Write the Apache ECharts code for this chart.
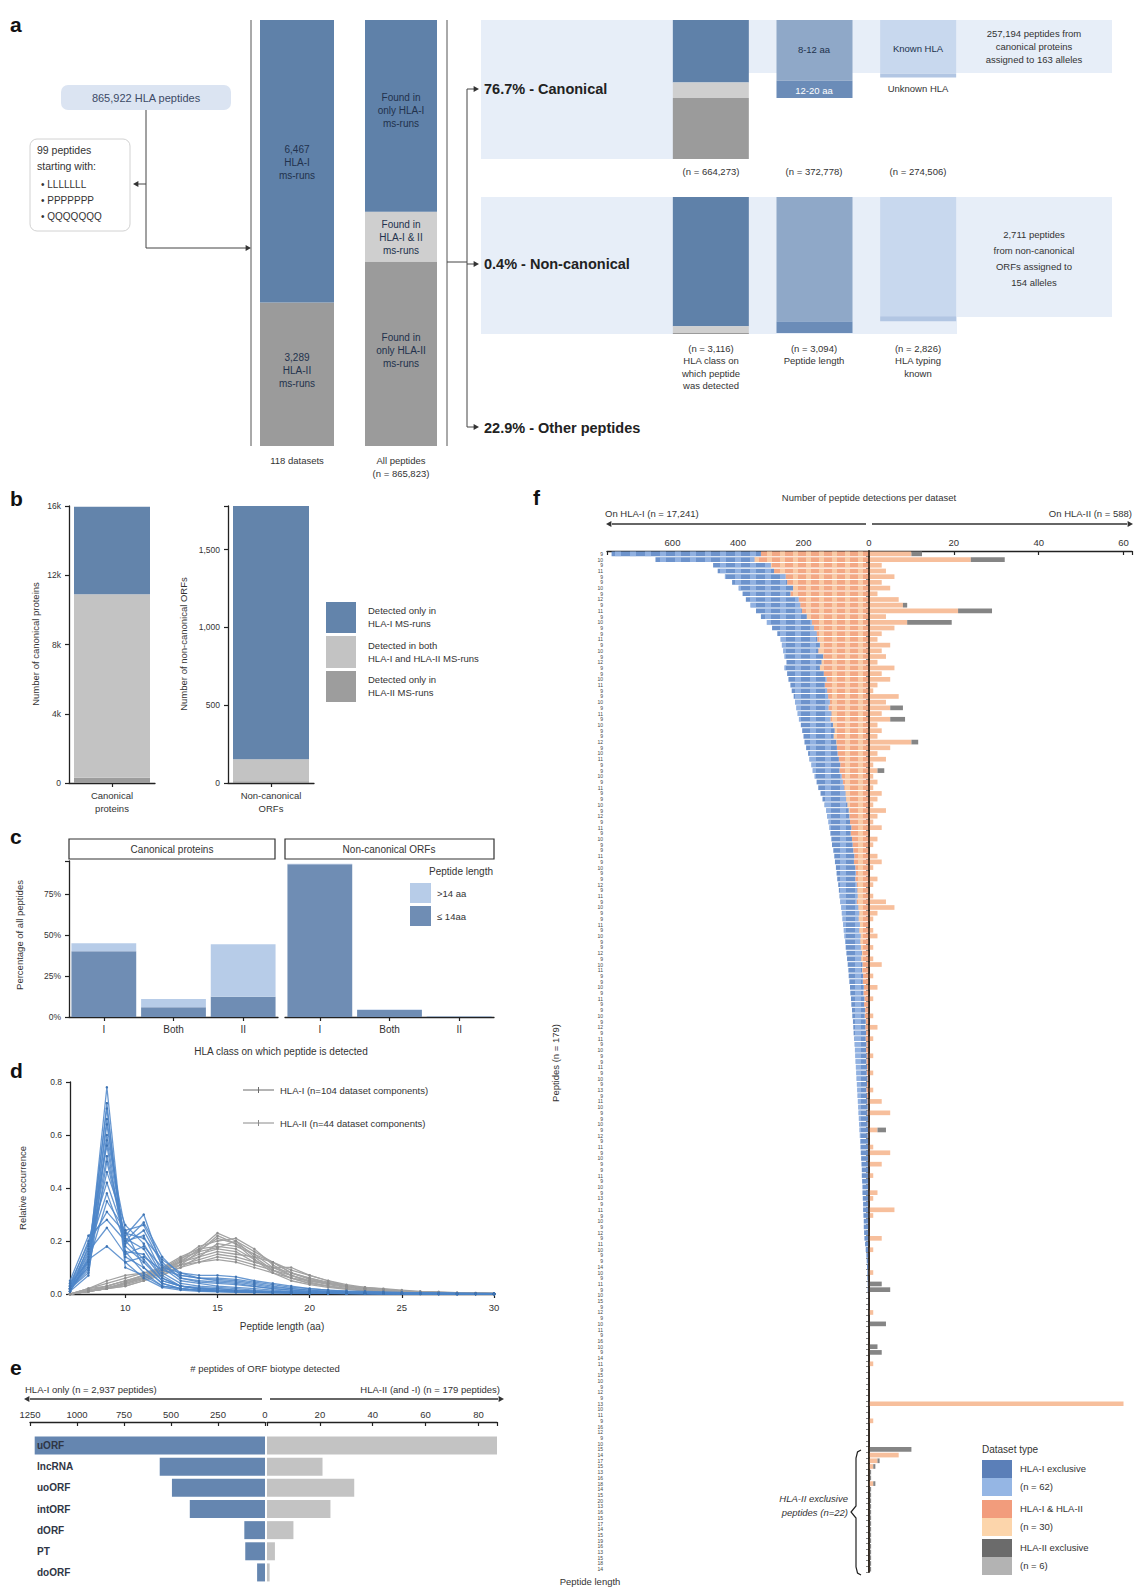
<!DOCTYPE html>
<html><head><meta charset="utf-8">
<script src="https://cdn.jsdelivr.net/npm/echarts@6/dist/echarts.min.js"></script>
<style>html,body{margin:0;padding:0;background:#fff}#c{width:1141px;height:1587px}</style>
</head><body><div id="c"></div>
<script>
// ---------------- Panel a ----------------
const aDatasetCats = ['118 datasets'];
const aRunsHLA1 = [6467];
const aRunsHLA2 = [3289];
const aAllPeptidesCats = ['All peptides'];
const aPepOnlyHLA1 = [389623];
const aPepBoth = [101300];
const aPepOnlyHLA2 = [374900];
const aStepCats = ['HLA class', 'Peptide length', 'HLA typing'];
const canonClass = [299273, 73000, 292000];     // only HLA-I, both, only HLA-II
const canonLength = [290000, 82778];            // 8-12 aa, 12-20 aa
const canonTyping = [257194, 17312];            // known HLA, unknown HLA
const nonCanonClass = [2937, 157, 22];
const nonCanonLength = [2830, 264];
const nonCanonTyping = [2711, 115];
// ---------------- Panel b ----------------
const bCats1 = ['Canonical\nproteins'];
const bCats2 = ['Non-canonical\nORFs'];
const bCanonOnlyHLA1 = [5050];
const bCanonBoth = [10600];
const bCanonOnlyHLA2 = [300];
const bNonCanonOnlyHLA1 = [1628];
const bNonCanonBoth = [140];
const bNonCanonOnlyHLA2 = [12];
// ---------------- Panel c ----------------
const cCats = ['I', 'Both', 'II'];
const cCanonShort = [40, 6, 12.3];
const cCanonLong = [4.9, 5, 32];
const cNonCanonShort = [93, 4.3, 0.3];
const cNonCanonLong = [0.4, 0.2, 0.2];
// ---------------- Panel d ----------------
const dLengths = [7,8,9,10,11,12,13,14,15,16,17,18,19,20,21,22,23,24,25,26,27,28,29,30];
const dHLA1Curves = [
 [0.01,0.12,0.78,0.12,0.06,0.025,0.015,0.01,0.008,0.006,0.005,0.004,0.003,0.002,0.002,0.001,0.001,0.001,0.001,0,0,0,0,0],
 [0.02,0.15,0.70,0.14,0.10,0.04,0.02,0.015,0.01,0.008,0.006,0.005,0.004,0.003,0.002,0.002,0.001,0.001,0.001,0.001,0,0,0,0],
 [0.02,0.10,0.72,0.10,0.07,0.03,0.02,0.015,0.012,0.01,0.008,0.006,0.005,0.004,0.003,0.002,0.002,0.001,0.001,0.001,0,0,0,0],
 [0.02,0.11,0.66,0.16,0.08,0.03,0.02,0.012,0.01,0.008,0.006,0.005,0.004,0.003,0.002,0.002,0.001,0.001,0.001,0,0,0,0,0],
 [0.03,0.10,0.64,0.18,0.12,0.05,0.03,0.02,0.015,0.012,0.009,0.007,0.005,0.004,0.003,0.002,0.002,0.001,0.001,0.001,0.001,0,0,0],
 [0.02,0.09,0.60,0.24,0.10,0.04,0.02,0.015,0.012,0.01,0.008,0.006,0.005,0.004,0.003,0.002,0.002,0.001,0.001,0.001,0,0,0,0],
 [0.01,0.07,0.58,0.20,0.13,0.05,0.03,0.02,0.015,0.012,0.01,0.008,0.006,0.004,0.003,0.002,0.002,0.001,0.001,0.001,0,0,0,0],
 [0.01,0.18,0.56,0.16,0.15,0.06,0.03,0.02,0.02,0.015,0.01,0.008,0.006,0.005,0.004,0.003,0.002,0.002,0.001,0.001,0.001,0.001,0,0],
 [0.01,0.13,0.52,0.21,0.17,0.06,0.03,0.025,0.02,0.015,0.012,0.01,0.008,0.006,0.004,0.003,0.002,0.002,0.001,0.001,0.001,0,0,0],
 [0.02,0.08,0.50,0.20,0.22,0.08,0.04,0.03,0.025,0.02,0.015,0.01,0.008,0.006,0.005,0.004,0.003,0.002,0.002,0.001,0.001,0.001,0.001,0],
 [0.01,0.14,0.46,0.26,0.19,0.07,0.03,0.02,0.015,0.012,0.01,0.008,0.006,0.005,0.004,0.003,0.002,0.002,0.001,0.001,0.001,0,0,0],
 [0.03,0.20,0.42,0.22,0.30,0.10,0.05,0.04,0.03,0.025,0.02,0.015,0.01,0.008,0.006,0.005,0.004,0.003,0.002,0.002,0.001,0.001,0.001,0.001],
 [0.03,0.17,0.38,0.19,0.24,0.11,0.06,0.045,0.04,0.035,0.028,0.02,0.015,0.01,0.008,0.006,0.004,0.003,0.002,0.002,0.001,0.001,0.001,0],
 [0.04,0.12,0.35,0.24,0.26,0.12,0.06,0.05,0.045,0.04,0.03,0.02,0.015,0.01,0.008,0.006,0.005,0.004,0.003,0.002,0.002,0.001,0.001,0.001],
 [0.04,0.19,0.31,0.23,0.21,0.13,0.08,0.06,0.055,0.05,0.04,0.03,0.02,0.015,0.01,0.008,0.006,0.004,0.003,0.002,0.002,0.001,0.001,0.001],
 [0.05,0.22,0.28,0.20,0.27,0.14,0.07,0.06,0.05,0.045,0.035,0.025,0.02,0.015,0.01,0.008,0.006,0.005,0.004,0.003,0.002,0.002,0.001,0.001],
 [0.02,0.16,0.25,0.15,0.18,0.10,0.08,0.07,0.07,0.065,0.05,0.04,0.03,0.02,0.015,0.01,0.008,0.006,0.005,0.004,0.003,0.002,0.002,0.001],
 [0.03,0.13,0.18,0.12,0.14,0.09,0.07,0.06,0.06,0.055,0.045,0.035,0.025,0.02,0.015,0.012,0.01,0.008,0.006,0.005,0.004,0.003,0.002,0.002]
];
const dHLA2Curves = [
 [0,0.01,0.02,0.03,0.05,0.08,0.12,0.17,0.23,0.20,0.14,0.09,0.06,0.04,0.03,0.02,0.015,0.01,0.007,0.005,0.003,0.002,0.001,0.001],
 [0,0.01,0.02,0.045,0.07,0.07,0.11,0.16,0.22,0.19,0.13,0.08,0.05,0.035,0.025,0.018,0.012,0.008,0.006,0.004,0.003,0.002,0.001,0.001],
 [0,0.01,0.02,0.035,0.055,0.085,0.125,0.165,0.21,0.19,0.15,0.10,0.07,0.045,0.03,0.02,0.014,0.01,0.007,0.005,0.003,0.002,0.001,0.001],
 [0,0.01,0.02,0.04,0.06,0.09,0.13,0.18,0.20,0.21,0.17,0.11,0.07,0.05,0.035,0.025,0.018,0.012,0.008,0.006,0.004,0.003,0.002,0.001],
 [0,0.01,0.025,0.04,0.065,0.095,0.135,0.16,0.175,0.20,0.16,0.12,0.08,0.055,0.04,0.028,0.02,0.014,0.01,0.007,0.005,0.003,0.002,0.001],
 [0,0.01,0.02,0.03,0.05,0.07,0.10,0.14,0.19,0.18,0.15,0.12,0.08,0.06,0.04,0.03,0.02,0.015,0.01,0.007,0.005,0.003,0.002,0.001],
 [0,0.01,0.03,0.05,0.07,0.10,0.14,0.17,0.18,0.17,0.13,0.09,0.06,0.04,0.03,0.02,0.015,0.01,0.008,0.005,0.004,0.003,0.002,0.001],
 [0,0.01,0.02,0.04,0.06,0.09,0.12,0.15,0.17,0.16,0.12,0.10,0.10,0.07,0.05,0.03,0.02,0.015,0.01,0.007,0.005,0.003,0.002,0.001],
 [0,0.02,0.04,0.06,0.08,0.10,0.12,0.14,0.16,0.15,0.14,0.12,0.09,0.07,0.05,0.035,0.025,0.018,0.012,0.008,0.006,0.004,0.003,0.002],
 [0,0.015,0.03,0.05,0.07,0.09,0.11,0.13,0.15,0.14,0.12,0.10,0.08,0.06,0.045,0.032,0.022,0.015,0.01,0.007,0.005,0.003,0.002,0.001],
 [0,0.02,0.05,0.07,0.08,0.09,0.11,0.12,0.14,0.13,0.11,0.09,0.07,0.05,0.04,0.03,0.02,0.015,0.01,0.008,0.006,0.004,0.003,0.002],
 [0,0.02,0.03,0.05,0.06,0.08,0.10,0.12,0.13,0.12,0.10,0.08,0.06,0.05,0.04,0.03,0.025,0.02,0.015,0.01,0.008,0.005,0.004,0.003]
];
// ---------------- Panel e ----------------
const eBiotypes = ['uORF', 'lncRNA', 'uoORF', 'intORF', 'dORF', 'PT', 'doORF'];
const eHLA1Only = [1225, 560, 495, 400, 110, 105, 42];
const eHLA2 = [87, 21, 33, 24, 10, 3, 1];
// ---------------- Panel f ----------------
const fPeptideLengths = [
 9,10,9,11,9,9,10,9,12,9, 11,9,10,9,9,11,9,10,9,12, 9,9,10,11,9,9,10,9,11,9,
 10,9,9,12,9,10,11,9,9,10, 9,11,9,9,10,9,12,9,11,9, 10,9,9,11,9,10,9,9,12,9,
 11,9,10,9,9,11,9,10,9,9, 12,9,10,11,9,9,10,9,11,9, 9,10,9,12,9,11,9,10,9,9,
 11,9,10,9,13,9,11,10,9,9, 10,9,12,9,11,9,10,9,9,11, 9,10,9,13,9,11,9,10,9,12,
 9,11,10,9,9,14,10,9,11,9, 10,15,9,12,9,10,11,9,16,10, 9,14,11,9,15,10,9,12,9,13,
 10,11,9,16,12,9,10,15,14,17, 15,13,16,18,14,15,20,13,16,15, 17,14,15,19,16,13,15,18,14];
const fLeftHLA1Excl = [
 456,302,176,172,185,168,166,146,161,152, 140,140,137,128,120,112,116,107,118,107,
 108,112,116,105,108,105,106,98,103,96, 98,99,92,97,94,90,90,88,82,82,
 80,79,76,72,70,69,68,66,67,62, 63,63,61,61,58,59,59,55,56,56,
 55,50,52,53,49,51,47,49,46,46, 47,43,45,42,44,41,42,40,41,39,
 40,38,39,37,38,35,36,34,35,33, 34,32,33,31,28,29,29,29,27,28,
 26,26,24,25,23,23,21,21,21,20, 20,18,19,18,16,17,17,15,16,14,
 14,12,9,8,7,6,5,5,4,4, 3,3,3,2,2,2,2,2,1,1,
 1,1,1,1,1,1,1,1,1,1, 1,1,1,1,1,1,1,0,0,0,
 0,0,0,0,0,0,0,0,0,0, 0,0,0,0,0,0,0,0,0];
const fLeftHLA12 = [
 330,350,300,290,255,250,232,240,215,210, 205,190,175,168,160,158,150,155,140,145,
 150,138,130,135,128,125,120,124,115,118, 110,105,108,100,98,96,92,88,90,84,
 80,76,72,70,66,62,60,58,54,56, 52,50,48,45,46,42,40,42,38,36,
 35,38,33,30,32,28,30,26,27,25, 22,24,20,21,18,19,16,17,14,15,
 12,13,10,11,9,10,8,9,7,8, 6,7,5,6,8,6,5,4,5,3,
 4,3,4,2,3,2,3,2,1,2, 1,2,1,1,2,1,0,1,0,1,
 0,0,1,0,0,0,0,0,0,0, 0,0,0,0,0,0,0,0,0,0,
 0,0,0,0,0,0,0,0,0,0, 0,0,0,0,0,0,0,0,0,0,
 0,0,0,0,0,0,0,0,0,0, 0,0,0,0,0,0,0,0,0];
const fRightHLA12 = [
 10,24,3,4,6,3,5,2,7,8, 21,4,9,6,3,2,5,3,4,2,
 6,3,5,2,1,7,4,5,3,5, 2,3,2,10,5,2,4,1,2,1,
 2,1,3,2,1,4,2,1,3,0, 2,1,0,2,3,1,0,2,1,0,
 1,4,6,2,1,0,1,2,0,1, 0,1,3,0,1,0,2,0,1,0,
 0,1,0,2,0,1,0,0,1,0, 0,1,0,0,1,0,3,0,5,0,
 0,2,0,0,1,5,0,3,0,1, 0,0,2,1,0,6,1,0,0,0,
 3,0,1,0,0,0,1,0,0,0, 0,0,0,1,0,0,0,0,0,0,
 0,0,1,0,0,0,0,0,0,60, 0,0,1,0,0,0,0,0,7,2,
 1,0,0,1,0,0,0,0,0,0, 0,0,0,0,0,0,0,0,0];
const fRightHLA2Excl = [
 2.5,8,0,0,0,0,0,0,0,1, 8,0,10.5,0,0,0,0,0,0,0,
 0,0,0,0,0,0,0,3,0,3.5, 0,0,0,1.6,0,0,0,0,1.6,0,
 0,0,0,0,0,0,0,0,0,0, 0,0,0,0,0,0,0,0,0,0,
 0,0,0,0,0,0,0,0,0,0, 0,0,0,0,0,0,0,0,0,0,
 0,0,0,0,0,0,0,0,0,0, 0,0,0,0,0,0,0,0,0,0,
 0,2,0,0,0,0,0,0,0,0, 0,0,0,0,0,0,0,0,0,0,
 0,0,0,0,0,0,0,0,3,5, 0,0,0,0,0,4,0,0,0,2,
 3,0,0,0,0,0,0,0,0,0, 0,0,0,0,0,0,0,10,0,0.5,
 0.5,0.5,0.5,0.5,0.5,0.5,0.5,0.5,0.5,0.5, 0.5,0.5,0.5,0.5,0.5,0.5,0.5,0.5,0.5];
const fPeptides = fPeptideLengths.map((l, i) => 'p' + (i + 1));

// ---------------- styling ----------------
const F = '"Liberation Sans", Arial, Helvetica, sans-serif';
const C = {
  blueA: '#5f81a9', grayA: '#9b9b9b', lgrayA: '#cfcfcf',
  len1: '#8fa8c8', len2: '#6b8cb8', typ1: '#c8d8ee', typ2: '#b2c6e3', bg: '#e7eef8',
  bBlue: '#6384ab', bL: '#c3c3c3', bG: '#9d9d9d',
  cDark: '#6f8db4', cLight: '#b7cce8',
  dBlue: '#4d86c9', dGray: '#a3a3a3',
  eL: '#6586b0', eR: '#c3c3c3',
  fBlue: '#6d93cc', fOrange: '#f3a885', fOrangeR: '#f7bf9c', fGray: '#858585'
};
const G = [];
function T(x, y, text, o) { o = o || {}; const s = o.size || 10;
  G.push({type: 'text', x: x, y: y, rotation: o.rot || 0, z: 100,
    style: {text: text, fill: o.color || '#333', fontSize: s, fontFamily: F,
      fontWeight: o.bold ? 'bold' : 'normal', fontStyle: o.italic ? 'italic' : 'normal',
      align: o.align || 'center', verticalAlign: o.va || 'middle', lineHeight: o.lh || Math.round(s * 1.25)}}); }
function Ln(pts, o) { o = o || {}; G.push({type: 'polyline', z: 100, shape: {points: pts},
  style: {stroke: o.color || '#444', lineWidth: o.w || 1, fill: null}}); }
function Rc(x, y, w, h, fill, o) { o = o || {}; G.push({type: 'rect', z: o.z !== undefined ? o.z : 1,
  shape: {x: x, y: y, width: w, height: h, r: o.r || 0},
  style: {fill: fill, stroke: o.stroke || null, lineWidth: o.lw || 1}}); }
function Hd(x, y, dir, s) { s = s || 3; let p;
  if (dir === 'r') p = [[x, y], [x - s * 1.8, y - s], [x - s * 1.8, y + s]];
  else p = [[x, y], [x + s * 1.8, y - s], [x + s * 1.8, y + s]];
  G.push({type: 'polygon', z: 100, shape: {points: p}, style: {fill: '#333'}}); }

// panel letters
T(10, 24, 'a', {size: 21, bold: true, align: 'left', color: '#111'});
T(10, 498, 'b', {size: 21, bold: true, align: 'left', color: '#111'});
T(10, 836, 'c', {size: 21, bold: true, align: 'left', color: '#111'});
T(10, 1070, 'd', {size: 21, bold: true, align: 'left', color: '#111'});
T(10, 1367, 'e', {size: 21, bold: true, align: 'left', color: '#111'});
T(533, 497, 'f', {size: 21, bold: true, align: 'left', color: '#111'});

// ---- panel a decorations ----
Rc(61, 85, 170, 25, '#dbe4f2', {r: 7, z: 50});
T(146, 97.5, '865,922 HLA peptides', {size: 11, color: '#3c4a66'});
Rc(30, 139, 100, 92, '#ffffff', {r: 7, stroke: '#d2d2d2', z: 50});
T(37, 150, '99 peptides', {size: 10.5, align: 'left'});
T(37, 166, 'starting with:', {size: 10.5, align: 'left'});
T(41, 184, '\u2022 LLLLLLL', {size: 10, align: 'left'});
T(41, 200, '\u2022 PPPPPPP', {size: 10, align: 'left'});
T(41, 216, '\u2022 QQQQQQQ', {size: 10, align: 'left'});
Ln([[146, 110], [146, 248], [246, 248]]); Hd(251, 248, 'r');
Ln([[146, 184], [138, 184]]); Hd(133, 184, 'l');
Ln([[251, 20], [251, 446]], {color: '#555'});
Ln([[447, 20], [447, 446]], {color: '#555'});
T(297, 162, '6,467\nHLA-I\nms-runs', {size: 10, color: '#22324d', lh: 13});
T(297, 370, '3,289\nHLA-II\nms-runs', {size: 10, color: '#22324d', lh: 13});
T(401, 110, 'Found in\nonly HLA-I\nms-runs', {size: 10, color: '#22324d', lh: 13});
T(401, 237, 'Found in\nHLA-I & II\nms-runs', {size: 10, color: '#22324d', lh: 13});
T(401, 350, 'Found in\nonly HLA-II\nms-runs', {size: 10, color: '#22324d', lh: 13});
T(297, 460, '118 datasets', {size: 9.5});
T(401, 460, 'All peptides', {size: 9.5});
T(401, 473, '(n = 865,823)', {size: 9.5});
Ln([[447, 262], [467, 262]]);
Ln([[467, 89], [467, 427]]);
Ln([[467, 89], [474, 89]]); Hd(479, 89, 'r');
Ln([[467, 264], [474, 264]]); Hd(479, 264, 'r');
Ln([[467, 427], [474, 427]]); Hd(479, 427, 'r');
T(484, 89, '76.7% - Canonical', {size: 14.5, bold: true, align: 'left', color: '#222'});
T(484, 264, '0.4% - Non-canonical', {size: 14.5, bold: true, align: 'left', color: '#222'});
T(484, 428, '22.9% - Other peptides', {size: 14.5, bold: true, align: 'left', color: '#222'});
Rc(481, 20, 192, 139, C.bg, {z: 0});
Rc(481, 20, 631, 53, C.bg, {z: 0});
Rc(481, 197, 476, 137, C.bg, {z: 0});
Rc(957, 197, 155, 120, C.bg, {z: 0});
T(814, 49, '8-12 aa', {size: 9.5, color: '#22324d'});
T(814, 90, '12-20 aa', {size: 9.5, color: '#ffffff'});
T(918, 48, 'Known HLA', {size: 9.5, color: '#22324d'});
T(918, 88, 'Unknown HLA', {size: 9.5});
T(1034, 46, '257,194 peptides from\ncanonical proteins\nassigned to 163 alleles', {size: 9.5, lh: 13});
T(711, 171, '(n = 664,273)', {size: 9.5});
T(814, 171, '(n = 372,778)', {size: 9.5});
T(918, 171, '(n = 274,506)', {size: 9.5});
T(1034, 258, '2,711 peptides\nfrom non-canonical\nORFs assigned to\n154 alleles', {size: 9.5, lh: 16});
T(711, 342, '(n = 3,116)\nHLA class on\nwhich peptide\nwas detected', {size: 9.5, va: 'top', lh: 12.5});
T(814, 342, '(n = 3,094)\nPeptide length', {size: 9.5, va: 'top', lh: 12.5});
T(918, 342, '(n = 2,826)\nHLA typing\nknown', {size: 9.5, va: 'top', lh: 12.5});

// ---- panel b decorations ----
T(35, 644, 'Number of canonical proteins', {size: 9.5, rot: Math.PI / 2});
T(183, 644, 'Number of non-canonical ORFs', {size: 9.5, rot: Math.PI / 2});
Rc(326, 602, 30, 31, C.bBlue, {z: 50});
Rc(326, 636, 30, 32, C.bL, {z: 50});
Rc(326, 671, 30, 31, C.bG, {z: 50});
T(368, 617, 'Detected only in\nHLA-I MS-runs', {size: 9.5, align: 'left', lh: 13});
T(368, 652, 'Detected in both\nHLA-I and HLA-II MS-runs', {size: 9.5, align: 'left', lh: 13});
T(368, 686, 'Detected only in\nHLA-II MS-runs', {size: 9.5, align: 'left', lh: 13});

// ---- panel c decorations ----
Rc(69, 839, 206, 20, '#fff', {stroke: '#333', lw: 1.2, z: 50});
Rc(285, 839, 209, 20, '#fff', {stroke: '#333', lw: 1.2, z: 50});
T(172, 849, 'Canonical proteins', {size: 10});
T(389, 849, 'Non-canonical ORFs', {size: 10});
T(493, 871, 'Peptide length', {size: 10, align: 'right'});
Rc(410, 883, 21, 20, C.cLight, {z: 50});
Rc(410, 906, 21, 20, C.cDark, {z: 50});
T(437, 893, '>14 aa', {size: 9.5, align: 'left'});
T(437, 916, '\u2264 14aa', {size: 9.5, align: 'left'});
T(281, 1051, 'HLA class on which peptide is detected', {size: 10});
T(19, 935, 'Percentage of all peptides', {size: 9.5, rot: Math.PI / 2});

// ---- panel d decorations ----
Ln([[243, 1090], [274, 1090]], {color: '#6a6a6a'});
Ln([[258.5, 1087], [258.5, 1093]], {color: '#6a6a6a'});
T(280, 1090, 'HLA-I (n=104 dataset components)', {size: 9.5, align: 'left'});
Ln([[243, 1123], [274, 1123]], {color: '#8a8a8a'});
Ln([[258.5, 1120], [258.5, 1126]], {color: '#8a8a8a'});
T(280, 1123, 'HLA-II (n=44 dataset components)', {size: 9.5, align: 'left'});
T(282, 1326, 'Peptide length (aa)', {size: 10});
T(22, 1188, 'Relative occurrence', {size: 9.5, rot: Math.PI / 2});

// ---- panel e decorations ----
T(265, 1368, '# peptides of ORF biotype detected', {size: 9.5});
T(25, 1389, 'HLA-I only (n = 2,937 peptides)', {size: 9.5, align: 'left'});
T(500, 1389, 'HLA-II (and -I) (n = 179 peptides)', {size: 9.5, align: 'right'});
Ln([[262, 1399], [30, 1399]], {w: 1.5, color: '#333'}); Hd(24, 1399, 'l');
Ln([[270, 1399], [498, 1399]], {w: 1.5, color: '#333'}); Hd(504, 1399, 'r');

// ---- panel f decorations ----
T(869, 497, 'Number of peptide detections per dataset', {size: 9.5});
T(605, 513, 'On HLA-I (n = 17,241)', {size: 9.5, align: 'left'});
T(1132, 513, 'On HLA-II (n = 588)', {size: 9.5, align: 'right'});
Ln([[612, 524], [866, 524]], {w: 1.5, color: '#333'}); Hd(606, 524, 'l');
Ln([[872, 524], [1127, 524]], {w: 1.5, color: '#333'}); Hd(1133, 524, 'r');
T(555, 1063, 'Peptides (n = 179)', {size: 9.5, rot: Math.PI / 2});
T(590, 1581, 'Peptide length', {size: 9.5});
Ln([[861, 1450], [857.5, 1452], [856, 1458], [856, 1506], [851, 1512], [856, 1518], [856, 1567], [857.5, 1573], [861, 1575]], {color: '#222', w: 1.2});
T(848, 1505, 'HLA-II exclusive\npeptides (n=22)', {size: 9.5, italic: true, align: 'right', lh: 14});
T(982, 1449, 'Dataset type', {size: 10, align: 'left'});
Rc(982, 1460, 30, 18, '#5b7fb8', {z: 50}); Rc(982, 1478, 30, 18, '#95b6e4', {z: 50});
Rc(982, 1500, 30, 18, '#f29c7c', {z: 50}); Rc(982, 1518, 30, 18, '#fcd5ab', {z: 50});
Rc(982, 1539, 30, 18, '#6b6b6b', {z: 50}); Rc(982, 1557, 30, 18, '#b3b3b3', {z: 50});
T(1020, 1460, 'HLA-I exclusive\n(n = 62)', {size: 9.5, align: 'left', va: 'top', lh: 17.5});
T(1020, 1500, 'HLA-I & HLA-II\n(n = 30)', {size: 9.5, align: 'left', va: 'top', lh: 17.5});
T(1020, 1539, 'HLA-II exclusive\n(n = 6)', {size: 9.5, align: 'left', va: 'top', lh: 17.5});

// ---------------- axes helpers ----------------
const AL = {show: true, lineStyle: {color: '#222', width: 1.3}};
const AT = {show: true, length: 4, lineStyle: {color: '#222', width: 1.2}};
const LBL = {fontSize: 9, color: '#333', fontFamily: F};
function gridOf(l, t, w, h) { return {left: l, top: t, width: w, height: h, containLabel: false, outerBoundsMode: 'none'}; }

const option = {
  animation: false,
  backgroundColor: '#ffffff',
  textStyle: {fontFamily: F},
  graphic: {elements: G},
  grid: [
    gridOf(260, 20, 74, 426),
    gridOf(365, 20, 72, 426),
    gridOf(659, 20, 311, 139),
    gridOf(659, 197, 311, 137),
    gridOf(69, 506, 86, 277),
    gridOf(228, 506, 86, 277),
    gridOf(69, 861, 209, 156),
    gridOf(285, 861, 209, 156),
    gridOf(70, 1082, 424, 212),
    gridOf(30, 1435, 235, 148),
    gridOf(267, 1435, 230, 148),
    gridOf(607, 551, 262, 1021),
    gridOf(869, 551, 263, 1021)
  ],
  xAxis: [
    {gridIndex: 0, type: 'category', data: aDatasetCats, show: false},
    {gridIndex: 1, type: 'category', data: aAllPeptidesCats, show: false},
    {gridIndex: 2, type: 'category', data: aStepCats, show: false},
    {gridIndex: 3, type: 'category', data: aStepCats, show: false},
    {gridIndex: 4, type: 'category', data: bCats1, axisLine: AL, axisTick: Object.assign({alignWithLabel: true}, AT),
      axisLabel: Object.assign({}, LBL, {fontSize: 9.5, lineHeight: 13, margin: 6})},
    {gridIndex: 5, type: 'category', data: bCats2, axisLine: AL, axisTick: Object.assign({alignWithLabel: true}, AT),
      axisLabel: Object.assign({}, LBL, {fontSize: 9.5, lineHeight: 13, margin: 6})},
    {gridIndex: 6, type: 'category', data: cCats, axisLine: AL, axisTick: Object.assign({alignWithLabel: true}, AT),
      axisLabel: Object.assign({}, LBL, {fontSize: 10, margin: 7})},
    {gridIndex: 7, type: 'category', data: cCats, axisLine: AL, axisTick: Object.assign({alignWithLabel: true}, AT),
      axisLabel: Object.assign({}, LBL, {fontSize: 10, margin: 7})},
    {gridIndex: 8, type: 'value', min: 7, max: 30, axisLine: AL, splitLine: {show: false},
      axisTick: Object.assign({customValues: [10, 15, 20, 25, 30]}, AT),
      axisLabel: Object.assign({customValues: [10, 15, 20, 25, 30]}, LBL, {fontSize: 9.5})},
    {gridIndex: 9, type: 'value', inverse: true, min: 0, max: 1250, interval: 250, position: 'top', offset: 13,
      axisLine: AL, axisTick: Object.assign({inside: true}, AT), splitLine: {show: false},
      axisLabel: Object.assign({}, LBL, {fontSize: 9.5, margin: 3, formatter: v => String(v)})},
    {gridIndex: 10, type: 'value', min: 0, max: 87, interval: 20, position: 'top', offset: 13,
      axisLine: AL, axisTick: Object.assign({inside: true}, AT), splitLine: {show: false},
      axisLabel: Object.assign({}, LBL, {fontSize: 9.5, margin: 3, formatter: v => (v > 0 && v % 20 === 0) ? String(v) : ''})},
    {gridIndex: 11, type: 'value', inverse: true, min: 0, max: 800, interval: 200, position: 'top',
      axisLine: AL, axisTick: Object.assign({inside: true}, AT), splitLine: {show: false},
      axisLabel: Object.assign({}, LBL, {fontSize: 9.5, margin: 4, formatter: v => v === 800 ? '' : String(v)})},
    {gridIndex: 12, type: 'value', min: 0, max: 62, interval: 20, position: 'top',
      axisLine: AL, axisTick: Object.assign({inside: true}, AT), splitLine: {show: false},
      axisLabel: Object.assign({}, LBL, {fontSize: 9.5, margin: 4, formatter: v => (v > 0 && v % 20 === 0) ? String(v) : ''})}
  ],
  yAxis: [
    {gridIndex: 0, type: 'value', min: 0, max: 9756, show: false},
    {gridIndex: 1, type: 'value', min: 0, max: 865823, show: false},
    {gridIndex: 2, type: 'value', min: 0, max: 664273, inverse: true, show: false},
    {gridIndex: 3, type: 'value', min: 0, max: 3116, inverse: true, show: false},
    {gridIndex: 4, type: 'value', min: 0, max: 16000, interval: 4000, axisLine: AL, axisTick: AT, splitLine: {show: false},
      axisLabel: Object.assign({}, LBL, {fontSize: 8.5, formatter: v => v === 0 ? '0' : (v / 1000) + 'k'})},
    {gridIndex: 5, type: 'value', min: 0, max: 1780, interval: 500, axisLine: AL, axisTick: AT, splitLine: {show: false},
      axisLabel: Object.assign({}, LBL, {fontSize: 8.5, formatter: v => v % 500 === 0 ? v.toLocaleString('en-US') : ''})},
    {gridIndex: 6, type: 'value', min: 0, max: 95, interval: 25, axisLine: AL, axisTick: AT, splitLine: {show: false},
      axisLabel: Object.assign({}, LBL, {fontSize: 8.5, formatter: v => v % 25 === 0 ? v + '%' : ''})},
    {gridIndex: 7, type: 'value', min: 0, max: 95, interval: 25, show: false},
    {gridIndex: 8, type: 'value', min: 0, max: 0.8, interval: 0.2, axisLine: AL, axisTick: AT, splitLine: {show: false},
      axisLabel: Object.assign({}, LBL, {fontSize: 8.5, formatter: v => v.toFixed(1)})},
    {gridIndex: 9, type: 'category', inverse: true, data: eBiotypes, z: 10, axisLine: {show: false}, axisTick: {show: false},
      axisLabel: {inside: true, margin: 7, fontSize: 10, fontWeight: 'bold', color: '#2f3645', fontFamily: F}},
    {gridIndex: 10, type: 'category', inverse: true, data: eBiotypes, show: false},
    {gridIndex: 11, type: 'category', inverse: true, data: fPeptides, axisLine: {show: true, lineStyle: {color: '#222', width: 1.5}},
      axisTick: {show: true, length: 3, interval: 0, lineStyle: {color: '#333', width: 0.6}},
      axisLabel: {interval: 0, fontSize: 5, color: '#444', margin: 4, fontFamily: F, formatter: (v, i) => String(fPeptideLengths[i])}},
    {gridIndex: 12, type: 'category', inverse: true, data: fPeptides, z: 10,
      axisLine: {show: true, lineStyle: {color: '#2a1f14', width: 1.6}}, axisTick: {show: false}, axisLabel: {show: false}}
  ],
  series: []
};
const S = option.series;
function bar(xi, yi, stack, data, color, extra) {
  S.push(Object.assign({type: 'bar', xAxisIndex: xi, yAxisIndex: yi, stack: stack, data: data,
    itemStyle: {color: color}, emphasis: {disabled: true}}, extra || {}));
}
// panel a
bar(0, 0, 'a1', aRunsHLA2, C.grayA, {barWidth: '100%'});
bar(0, 0, 'a1', aRunsHLA1, C.blueA, {barWidth: '100%'});
bar(1, 1, 'a2', aPepOnlyHLA2, C.grayA, {barWidth: '100%'});
bar(1, 1, 'a2', aPepBoth, C.lgrayA, {barWidth: '100%'});
bar(1, 1, 'a2', aPepOnlyHLA1, C.blueA, {barWidth: '100%'});
function stepSeries(xi, stack, cls, len, typ) {
  bar(xi, xi, stack, [{value: cls[0], itemStyle: {color: C.blueA}}, {value: len[0], itemStyle: {color: C.len1}}, {value: typ[0], itemStyle: {color: C.typ1}}], C.blueA, {barWidth: 76});
  bar(xi, xi, stack, [{value: cls[1], itemStyle: {color: C.lgrayA}}, {value: len[1], itemStyle: {color: C.len2}}, {value: typ[1], itemStyle: {color: C.typ2}}], C.lgrayA, {barWidth: 76});
  bar(xi, xi, stack, [{value: cls[2], itemStyle: {color: C.grayA}}, '-', '-'], C.grayA, {barWidth: 76});
}
stepSeries(2, 'can', canonClass, canonLength, canonTyping);
stepSeries(3, 'non', nonCanonClass, nonCanonLength, nonCanonTyping);
// panel b
bar(4, 4, 'b1', bCanonOnlyHLA2, C.bG, {barWidth: 76});
bar(4, 4, 'b1', bCanonBoth, C.bL, {barWidth: 76});
bar(4, 4, 'b1', bCanonOnlyHLA1, C.bBlue, {barWidth: 76});
bar(5, 5, 'b2', bNonCanonOnlyHLA2, C.bG, {barWidth: 76});
bar(5, 5, 'b2', bNonCanonBoth, C.bL, {barWidth: 76});
bar(5, 5, 'b2', bNonCanonOnlyHLA1, C.bBlue, {barWidth: 76});
// panel c
bar(6, 6, 'c1', cCanonShort, C.cDark, {barCategoryGap: '7%'});
bar(6, 6, 'c1', cCanonLong, C.cLight, {barCategoryGap: '7%'});
bar(7, 7, 'c2', cNonCanonShort, C.cDark, {barCategoryGap: '7%'});
bar(7, 7, 'c2', cNonCanonLong, C.cLight, {barCategoryGap: '7%'});
// panel d
dHLA2Curves.forEach(cv => S.push({type: 'line', xAxisIndex: 8, yAxisIndex: 8, data: dLengths.map((x, i) => [x, cv[i]]),
  symbol: 'circle', symbolSize: 2.5, lineStyle: {color: C.dGray, width: 1.3}, itemStyle: {color: '#8f8f8f'}, emphasis: {disabled: true}}));
dHLA1Curves.forEach(cv => S.push({type: 'line', xAxisIndex: 8, yAxisIndex: 8, data: dLengths.map((x, i) => [x, cv[i]]),
  symbol: 'circle', symbolSize: 2.5, lineStyle: {color: C.dBlue, width: 1.3, opacity: 0.85}, itemStyle: {color: '#3f74b3'}, emphasis: {disabled: true}}));
// panel e
bar(9, 9, 'e1', eHLA1Only, C.eL, {barWidth: 18});
bar(10, 10, 'e2', eHLA2, C.eR, {barWidth: 18});
// panel f
const decalBlue = {symbol: 'rect', symbolSize: 1, color: 'rgba(175,202,242,0.55)', dashArrayX: [6, 9], dashArrayY: [4, 0]};
const decalOrange = {symbol: 'rect', symbolSize: 1, color: 'rgba(253,222,185,0.65)', dashArrayX: [5, 8], dashArrayY: [4, 0]};
bar(11, 11, 'fl', fLeftHLA12, C.fOrange, {barCategoryGap: '18%', itemStyle: {color: C.fOrange, decal: decalOrange}});
bar(11, 11, 'fl', fLeftHLA1Excl, C.fBlue, {barCategoryGap: '18%', itemStyle: {color: C.fBlue, decal: decalBlue}});
bar(12, 12, 'fr', fRightHLA12, C.fOrangeR, {barCategoryGap: '18%'});
bar(12, 12, 'fr', fRightHLA2Excl, C.fGray, {barCategoryGap: '18%'});

const chart = echarts.init(document.getElementById('c'), null, {renderer: 'svg', width: 1141, height: 1587});
chart.setOption(option);
</script>
</body></html>
